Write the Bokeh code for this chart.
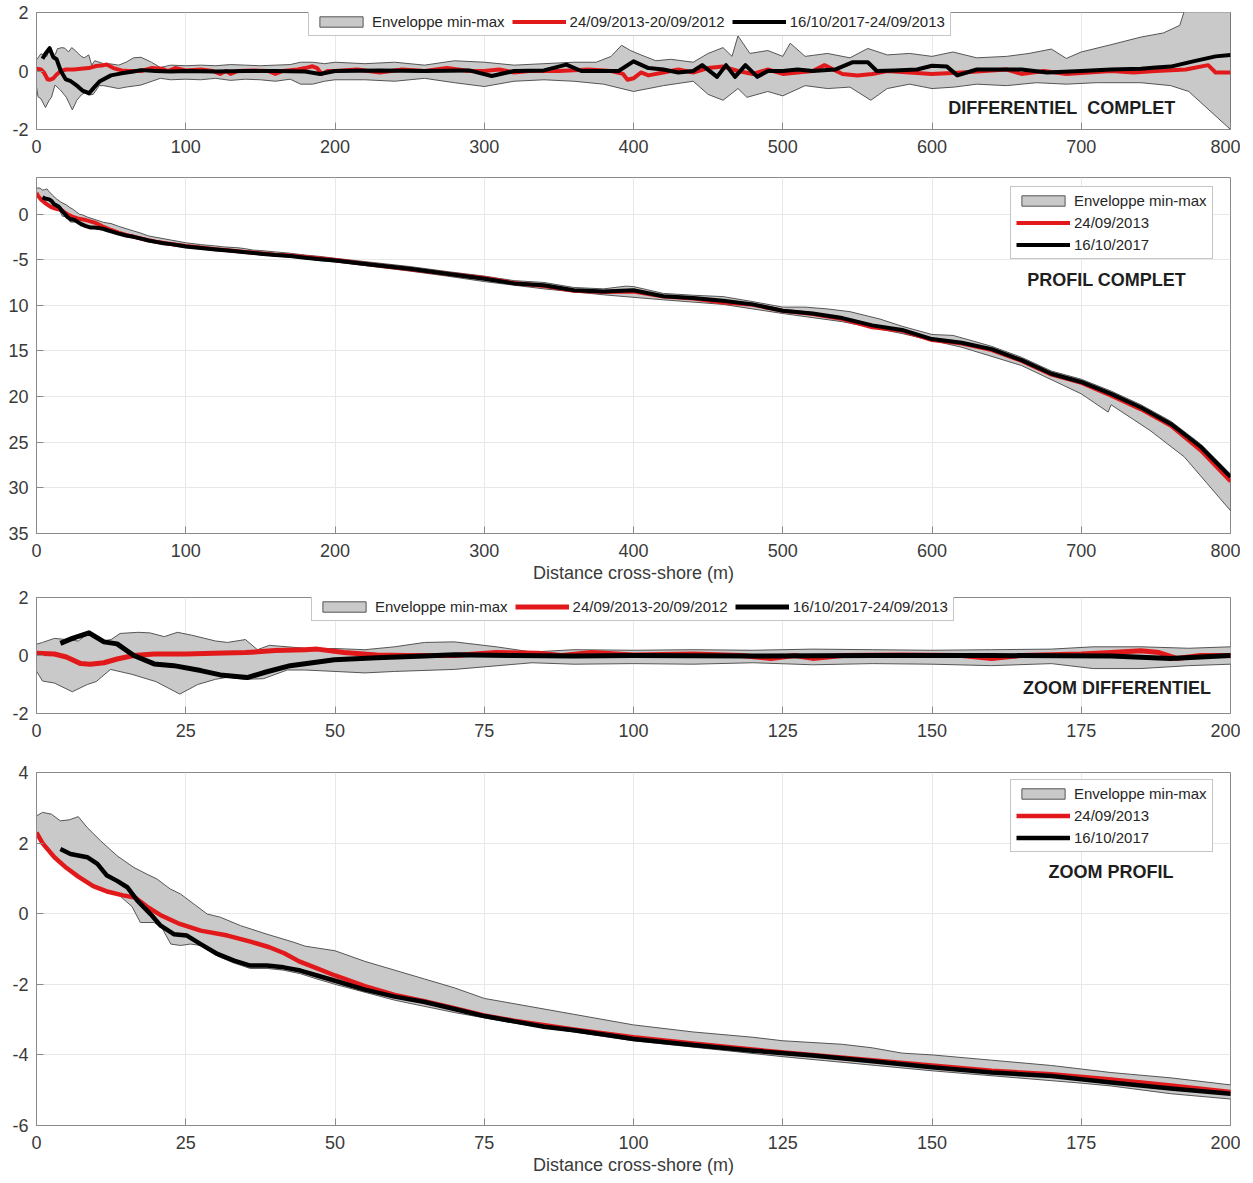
from bokeh.plotting import figure
from bokeh.models import Range1d, FixedTicker, Legend, LegendItem, Label
from bokeh.layouts import column
from bokeh.embed import file_html
from bokeh.resources import INLINE

# ---------------- DIFFERENTIAL (m) ----------------
diff_red_x = [0, 3, 5, 7.4, 9, 11.3, 13.5, 16.3, 19.7, 25, 29.7, 35, 40, 45, 47, 51.5, 57, 62, 70, 77,
              84, 88, 93, 100, 110, 118, 123, 127, 130, 135, 145, 155, 160, 165, 175, 180, 185, 188, 191, 195, 200,
              215, 230, 245, 260, 275, 290, 300, 310, 320, 330, 350, 370, 385, 393, 396,
              400, 405, 410, 420, 430, 440, 450, 460, 470, 480, 490, 500, 510, 520, 528,
              540, 550, 560, 570, 585, 600, 620, 635, 650, 660, 675, 690, 705, 720, 735,
              750, 770, 785, 790, 800]
diff_red_y = [0.08, 0.05, -0.05, -0.28, -0.3, -0.25, -0.12, 0.0, 0.05, 0.05, 0.08, 0.1, 0.17, 0.2, 0.22, 0.1, 0.02, 0.0, 0.0, 0.1,
              0.08, 0.0, 0.1, 0.02, 0.05, 0.0, -0.1, 0.0, -0.1, 0.0, 0.02, 0.0, -0.1, 0.0, 0.05, 0.1, 0.16, 0.1, -0.1, 0.0, 0.0,
              0.05, -0.05, 0.05, 0.0, 0.1, 0.0, 0.0, 0.05, -0.05, 0.0, 0.0, 0.05, 0.0, -0.1, -0.3,
              -0.25, -0.05, -0.15, -0.05, 0.05, -0.05, 0.1, 0.15, 0.0, -0.1, 0.05, -0.1, -0.05, 0.0, 0.2,
              -0.1, -0.15, -0.1, 0.0, -0.05, -0.1, -0.05, 0.0, 0.05, -0.1, 0.0, -0.1, -0.05, 0.0, -0.05,
              0.0, 0.05, 0.2, -0.05, -0.05]

diff_blk_x = [4, 6, 8.8, 11.3, 13.5, 16.3, 19.7, 23, 27.5, 30.8, 35.3, 38.6, 42.5, 49.9, 57, 65, 70, 80, 90, 100,
              120, 140, 160, 180, 190, 195, 200,
              230, 260, 290, 305, 320, 340, 355, 365, 390, 400, 410, 420, 430, 440, 446,
              456, 462, 468, 475, 483, 490, 500, 510, 520, 535, 547, 557, 563, 575, 590,
              600, 610, 617, 630, 645, 660, 677, 700, 720, 740, 750, 760, 775, 790, 800]
diff_blk_y = [0.42, 0.59, 0.78, 0.47, 0.4, 0.0, -0.29, -0.35, -0.52, -0.67, -0.76, -0.56, -0.35, -0.15, -0.08, -0.02, 0.03, 0.0, -0.02, 0.0,
              -0.02, 0.0, 0.0, -0.02, -0.1, -0.05, 0.0,
              0.02, 0.0, 0.02, -0.17, 0.0, 0.02, 0.22, 0.0, 0.0, 0.33, 0.1, 0.05, -0.05, 0.0, 0.2,
              -0.2, 0.2, -0.2, 0.2, -0.2, 0.0, 0.0, 0.05, 0.0, 0.05, 0.3, 0.3, 0.0, 0.02, 0.05,
              0.18, 0.15, -0.15, 0.05, 0.05, 0.05, -0.05, 0.0, 0.05, 0.08, 0.12, 0.15, 0.33, 0.5, 0.55]

diff_env_hi_x = [0, 1, 3, 5, 7, 9, 11, 12.5, 14, 17, 19, 21.4, 23.6, 26, 28, 30, 32, 35, 37, 39,
                 45, 50, 55, 60, 65, 70, 77, 83, 90, 100, 110, 120, 130, 140, 150, 160, 170, 177, 185, 193, 200,
                 220, 240, 260, 280, 300, 320, 340, 360, 375, 385, 392, 398, 405, 415, 425,
                 440, 450, 460, 466, 470, 478, 490, 500, 505, 515, 530, 545, 557, 570, 585,
                 600, 614, 630, 650, 665, 680, 690, 700, 720, 740, 755, 766, 770, 780, 800]
diff_env_hi_y = [0.39, 0.45, 0.59, 0.55, 0.5, 0.82, 0.5, 0.55, 0.76, 0.8, 0.78, 0.65, 0.8, 0.7, 0.6, 0.5, 0.45, 0.55, 0.2, 0.35,
                 0.25, 0.24, 0.2, 0.3, 0.45, 0.47, 0.3, 0.12, 0.2, 0.18, 0.2, 0.18, 0.22, 0.2, 0.18, 0.2, 0.22, 0.3, 0.3, 0.25, 0.3,
                 0.25, 0.3, 0.2, 0.35, 0.3, 0.2, 0.25, 0.3, 0.3, 0.5, 0.88, 0.7, 0.55, 0.35, 0.4,
                 0.3, 0.6, 0.8, 0.5, 1.2, 0.6, 0.7, 0.5, 0.95, 0.5, 0.6, 0.45, 0.77, 0.55, 0.6,
                 0.5, 0.65, 0.45, 0.5, 0.6, 0.75, 0.43, 0.65, 0.9, 1.16, 1.3, 1.56, 2.2, 2.6, 3.0]

diff_env_lo_x = [0, 1, 3, 6, 8.5, 10, 12.4, 16, 20, 24, 27, 30, 32, 35, 38, 42, 45, 50, 55, 60,
                 70, 83, 90, 100, 110, 120, 130, 140, 150, 160, 170, 177, 185, 193, 200,
                 220, 240, 260, 280, 300, 320, 340, 360, 380, 400, 420, 440, 450, 460, 470,
                 476, 490, 500, 515, 530, 545, 559, 570, 585, 600, 615, 630, 650, 670, 690,
                 710, 740, 760, 772, 800]
diff_env_lo_y = [-0.54, -0.88, -0.95, -1.25, -1.0, -0.9, -0.48, -0.65, -0.9, -1.33, -1.0, -0.82, -0.75, -0.82, -0.8, -0.5, -0.5, -0.55, -0.6, -0.55,
                 -0.48, -0.25, -0.3, -0.28, -0.3, -0.25, -0.32, -0.28, -0.3, -0.35, -0.28, -0.45, -0.45, -0.35, -0.3,
                 -0.3, -0.35, -0.25, -0.4, -0.53, -0.35, -0.3, -0.35, -0.45, -0.7, -0.5, -0.35, -0.8, -1.0, -0.6,
                 -0.9, -0.7, -0.85, -0.5, -0.6, -0.55, -1.0, -0.6, -0.45, -0.6, -0.55, -0.45, -0.5, -0.4, -0.45,
                 -0.4, -0.4, -0.5, -0.7, -2.0]

# ---------------- PROFILE (m) ----------------
prof_red_x = [0, 1, 3, 5, 7, 9.5, 12, 14.5, 16.5, 18.5, 21, 24, 27.5, 32, 36, 39, 41.5, 44, 47, 50,
              55, 60, 65, 70, 75, 80, 90, 100, 110, 120, 130, 140, 150, 160, 170, 180, 190, 200,
              225, 250, 275, 300, 320, 340, 360, 380, 400, 420, 440, 460, 480, 500, 520, 540, 560,
              580, 600, 620, 640, 660, 680, 700, 720, 740, 760, 780, 800]
prof_red_y = [2.3, 2.0, 1.6, 1.3, 1.05, 0.78, 0.62, 0.52, 0.46, 0.2, -0.06, -0.29, -0.48, -0.62, -0.8, -0.95, -1.12, -1.35, -1.55, -1.75,
              -2.05, -2.3, -2.48, -2.68, -2.88, -3.03, -3.28, -3.5, -3.68, -3.85, -4.0, -4.15, -4.3, -4.45, -4.55, -4.7, -4.87, -5.05,
              -5.55, -6.05, -6.55, -7.0, -7.55, -7.9, -8.4, -8.55, -8.5, -9.05, -9.25, -9.7, -9.95, -10.6, -10.95, -11.5, -12.4,
              -12.8, -13.8, -14.2, -14.9, -16.1, -17.6, -18.5, -19.9, -21.4, -23.2, -25.9, -29.3]

prof_blk_x = [4, 5.7, 8.5, 10.2, 11.8, 13.5, 15.2, 16.9, 19.1, 20.8, 23, 25.2, 27.5, 30.3, 33.1, 35.8, 38.6, 41.4, 44.2, 47,
              50, 55, 60, 65, 70, 75, 80, 85, 90, 95, 100, 110, 120, 130, 140, 150, 160, 170, 180, 190, 200,
              225, 250, 275, 300, 320, 340, 360, 380, 400, 420, 440, 460, 480, 500, 520, 540, 560, 580, 600,
              620, 640, 660, 680, 700, 720, 740, 760, 780, 800]
prof_blk_y = [1.83, 1.69, 1.6, 1.41, 1.08, 0.93, 0.75, 0.37, -0.01, -0.34, -0.58, -0.62, -0.86, -1.14, -1.33, -1.47, -1.47, -1.52, -1.61, -1.75,
              -1.9, -2.15, -2.35, -2.5, -2.7, -2.9, -3.05, -3.2, -3.3, -3.42, -3.55, -3.72, -3.88, -4.02, -4.18, -4.35, -4.5, -4.6, -4.78, -4.95, -5.1,
              -5.55, -6.0, -6.55, -7.1, -7.6, -7.8, -8.35, -8.5, -8.35, -9.0, -9.2, -9.5, -9.9, -10.6, -10.9, -11.4, -12.2, -12.7, -13.7,
              -14.1, -14.8, -16.0, -17.5, -18.4, -19.7, -21.2, -23.0, -25.5, -28.8]

prof_env_hi_x = [0, 1, 2.5, 4, 5.5, 7, 8.5, 10.7, 13.5, 16.3, 18.5, 20.2, 22.4, 24.1, 26.4, 28.6, 30.8, 34.2, 38.6, 43.1,
                 45, 50, 55, 60, 65, 70, 75, 80, 90, 100, 110, 120, 125, 135, 140, 145, 150, 160, 170, 175,
                 180, 190, 200, 225, 250, 275, 300, 320, 340, 360, 380, 395, 400, 420, 440, 460, 480, 500, 515, 530,
                 545, 565, 580, 600, 614, 625, 640, 660, 680, 700, 720, 740, 760, 780, 800]
prof_env_hi_y = [2.77, 2.87, 2.82, 2.63, 2.66, 2.75, 2.44, 2.07, 1.64, 1.31, 1.12, 0.98, 0.7, 0.56, 0.27, -0.01, -0.1, -0.34, -0.58, -0.81,
                 -0.92, -1.05, -1.35, -1.6, -1.85, -2.1, -2.4, -2.55, -2.85, -3.15, -3.35, -3.5, -3.6, -3.7, -3.8, -3.95, -4.0, -4.15, -4.3, -4.4,
                 -4.5, -4.65, -4.85, -5.3, -5.75, -6.3, -6.8, -7.3, -7.5, -8.05, -8.2, -7.9, -7.95, -8.7, -8.9, -9.05, -9.6, -10.2, -10.2, -10.4,
                 -10.7, -11.5, -12.3, -13.2, -13.3, -13.8, -14.5, -15.7, -17.2, -18.1, -19.4, -20.9, -22.7, -25.2, -28.5]

prof_env_lo_x = [0, 3, 7, 9.5, 12, 14, 16, 17.4, 19.7, 21, 22.5, 24.1, 25.8, 27.5, 30.3, 33.1, 35.8, 38.6, 41.4, 44.2,
                 47, 50, 60, 70, 80, 90, 100, 125, 150, 175, 180, 190, 200, 225, 250, 275, 300, 340, 380, 420,
                 460, 500, 540, 580, 620, 660, 700, 718, 720, 746, 769, 800]
prof_env_lo_y = [2.3, 1.6, 1.05, 0.78, 0.62, 0.5, 0.2, -0.25, -0.25, -0.4, -0.86, -0.9, -0.86, -0.9, -1.2, -1.4, -1.55, -1.55, -1.6, -1.7,
                 -1.85, -2.0, -2.45, -2.8, -3.1, -3.35, -3.6, -4.05, -4.45, -4.8, -4.88, -5.1, -5.25, -5.75, -6.25, -6.8, -7.4, -8.2, -8.85, -9.4,
                 -9.9, -10.9, -11.8, -13.1, -14.6, -16.6, -19.7, -21.7, -20.9, -23.7, -26.6, -32.5]

# ---------------- ticks / labels ----------------
ticks_full_x = [0, 100, 200, 300, 400, 500, 600, 700, 800]
ticks_zoom_x = [0, 25, 50, 75, 100, 125, 150, 175, 200]
ticks_diff_y = [-2, 0, 2]
ticks_prof_y = [0, -5, -10, -15, -20, -25, -30, -35]
ticks_zprof_y = [-6, -4, -2, 0, 2, 4]
diff_y_labels = {-2: "-2", 0: "0", 2: "2"}
prof_y_labels = {0: "0", -5: "-5", -10: "10", -15: "15", -20: "20", -25: "25", -30: "30", -35: "35"}
zprof_y_labels = {-6: "-6", -4: "-4", -2: "-2", 0: "0", 2: "2", 4: "4"}

diff_labels = ["Enveloppe min-max", "24/09/2013-20/09/2012", "16/10/2017-24/09/2013"]
prof_labels = ["Enveloppe min-max", "24/09/2013", "16/10/2017"]
xlabel = "Distance cross-shore (m)"

RED = "#e2191b"
BLACK = "#000000"
ENV_FILL = "#c9c9c9"
ENV_LINE = "#555555"
AX = "#8a8a8a"
TXT = "#3a3a3a"
FONT = "Liberation Sans"


def make_panel(xr, yr, height, top, bottom, xticks, yticks, ylabels, xlab=None):
    p = figure(width=1240, height=height, x_range=Range1d(*xr), y_range=Range1d(*yr),
               output_backend="svg", toolbar_location=None,
               min_border_left=36, min_border_right=10, min_border_top=top, min_border_bottom=bottom,
               background_fill_color="white", border_fill_color="white")
    p.outline_line_color = AX
    p.outline_line_width = 1
    for ax in (p.xaxis[0], p.yaxis[0]):
        ax.axis_line_color = AX
        ax.major_tick_line_color = AX
        ax.major_tick_in = 7
        ax.major_tick_out = 0
        ax.minor_tick_line_color = None
        ax.major_label_text_font = FONT
        ax.major_label_text_font_size = "18px"
        ax.major_label_text_color = TXT
    p.xaxis.ticker = FixedTicker(ticks=xticks)
    p.yaxis.ticker = FixedTicker(ticks=yticks)
    p.xaxis.major_label_standoff = 10
    p.yaxis.major_label_standoff = 8
    p.yaxis.major_label_overrides = ylabels
    if xlab:
        p.xaxis.axis_label = xlab
        p.xaxis.axis_label_text_font = FONT
        p.xaxis.axis_label_text_font_size = "18px"
        p.xaxis.axis_label_text_font_style = "normal"
        p.xaxis.axis_label_text_color = TXT
        p.xaxis.axis_label_standoff = 3
    p.xgrid.ticker = FixedTicker(ticks=xticks)
    p.ygrid.ticker = FixedTicker(ticks=yticks)
    p.grid.grid_line_color = "#e8e8e8"
    p.grid.grid_line_width = 1
    return p


def add_series(p, hx, hy, lx, ly, rx, ry, bx, by, lw):
    env = p.patch(hx + lx[::-1], hy + ly[::-1], fill_color=ENV_FILL, fill_alpha=1,
                  line_color=ENV_LINE, line_width=1)
    r = p.line(rx, ry, line_color=RED, line_width=lw, line_join="round")
    b = p.line(bx, by, line_color=BLACK, line_width=lw, line_join="round")
    return env, r, b


def add_legend(p, rends, labels, loc, orient):
    items = [LegendItem(label=l, renderers=[r]) for l, r in zip(labels, rends)]
    horiz = orient == "horizontal"
    leg = Legend(items=items, location=loc, orientation=orient,
                 label_text_font=FONT, label_text_font_size="15px", label_text_color="#262626",
                 glyph_width=54, glyph_height=13, label_height=13 if horiz else 15, label_standoff=4,
                 padding=5, spacing=7 if horiz else 5, margin=0,
                 border_line_color="#8c8c8c", border_line_width=1,
                 background_fill_color="white", background_fill_alpha=1)
    p.add_layout(leg)


def add_note(p, x, y, text):
    p.add_layout(Label(x=x, y=y, text=text, text_font=FONT, text_font_style="bold",
                       text_font_size="18px", text_color="#1e1e1e",
                       text_align="center", text_baseline="middle"))


# Panel 1 : differential, full   (frame 12 -> 129)
p1 = make_panel((0, 800), (-2, 2), 170, 12, 41, ticks_full_x, ticks_diff_y, diff_y_labels)
r1 = add_series(p1, diff_env_hi_x, diff_env_hi_y, diff_env_lo_x, diff_env_lo_y,
                diff_red_x, diff_red_y, diff_blk_x, diff_blk_y, 4)
add_legend(p1, r1, diff_labels, (272, 93), "horizontal")
add_note(p1, 687, -1.25, "DIFFERENTIEL\u00a0\u00a0COMPLET")

# Panel 2 : profile, full   (frame 177 -> 533)
p2 = make_panel((0, 800), (-35, 4), 416, 7, 53, ticks_full_x, ticks_prof_y, prof_y_labels, xlabel)
r2 = add_series(p2, prof_env_hi_x, prof_env_hi_y, prof_env_lo_x, prof_env_lo_y,
                prof_red_x, prof_red_y, prof_blk_x, prof_blk_y, 4)
add_legend(p2, r2, prof_labels, (974, 274), "vertical")
add_note(p2, 717, -7.2, "PROFIL COMPLET")

# Panel 3 : differential, zoom   (frame 597 -> 713)
p3 = make_panel((0, 200), (-2, 2), 172, 11, 45, ticks_zoom_x, ticks_diff_y, diff_y_labels)
r3 = add_series(p3, diff_env_hi_x, diff_env_hi_y, diff_env_lo_x, diff_env_lo_y,
                diff_red_x, diff_red_y, diff_blk_x, diff_blk_y, 5)
add_legend(p3, r3, diff_labels, (275, 92), "horizontal")
add_note(p3, 181, -1.12, "ZOOM DIFFERENTIEL")

# Panel 4 : profile, zoom   (frame 772 -> 1125)
p4 = make_panel((0, 200), (-6, 4), 423, 14, 56, ticks_zoom_x, ticks_zprof_y, zprof_y_labels, xlabel)
r4 = add_series(p4, prof_env_hi_x, prof_env_hi_y, prof_env_lo_x, prof_env_lo_y,
                prof_red_x, prof_red_y, prof_blk_x, prof_blk_y, 4.5)
add_legend(p4, r4, prof_labels, (974, 273), "vertical")
add_note(p4, 180, 1.19, "ZOOM PROFIL")

layout = column(p1, p2, p3, p4, spacing=0)
open("out.html", "w").write(file_html(layout, INLINE))
